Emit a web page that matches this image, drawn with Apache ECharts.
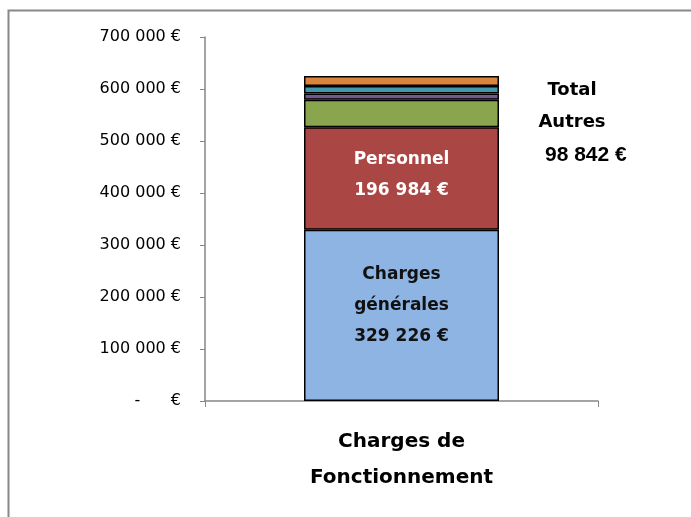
<!DOCTYPE html>
<html>
<head>
<meta charset="utf-8">
<script src="https://cdn.jsdelivr.net/npm/echarts@6/dist/echarts.min.js"></script>
<style>
html,body{margin:0;padding:0;background:#fff;}
#main{width:691px;height:517px;}
</style>
</head>
<body>
<div id="main"></div>
<script>
// données
var categories = ['Charges de\nFonctionnement'];
var segNames = ['Charges générales', 'Personnel', 'Autre 1', 'Autre 2', 'Autre 3', 'Autre 4'];
var segValues = [329226, 196984, 53300, 11800, 14400, 19342];
var segColors = ['#8EB4E3', '#AA4643', '#89A54E', '#71588F', '#4198AF', '#DB843D'];
var totalAutres = 98842;
var yTicks = [0, 100000, 200000, 300000, 400000, 500000, 600000, 700000];

function fmt(v){
    return String(v).replace(/\B(?=(\d{3})+(?!\d))/g, ' ');
}

var series = [];
for (var i = 0; i < segValues.length; i++) {
    var s = {
        name: segNames[i],
        type: 'bar',
        stack: 'tot',
        barWidth: 195,
        data: [segValues[i]],
        itemStyle: { color: segColors[i], borderColor: '#000', borderWidth: 1.5 },
        label: { show: false }
    };
    if (i == 0) {
        s.label = {
            show: true, position: 'inside', offset: [0, -10],
            formatter: 'Charges\ngénérales\n' + fmt(segValues[0]) + ' €',
            color: '#111', fontFamily: 'DejaVu Sans', fontWeight: 'bold',
            fontSize: 17, lineHeight: 31
        };
    }
    if (i == 1) {
        s.label = {
            show: true, position: 'inside', offset: [0, -4],
            formatter: 'Personnel\n' + fmt(segValues[1]) + ' €',
            color: '#fff', fontFamily: 'DejaVu Sans', fontWeight: 'bold',
            fontSize: 17, lineHeight: 31
        };
    }
    series.push(s);
}

var option = {
    animation: false,
    backgroundColor: '#fff',
    grid: { left: 205, right: 93, top: 37, bottom: 116, containLabel: false },
    xAxis: {
        type: 'category',
        data: categories,
        axisLine: { lineStyle: { color: '#868686', width: 1.5 } },
        axisTick: { show: true, length: 6, lineStyle: { color: '#868686' } },
        axisLabel: {
            margin: 23, color: '#000', fontFamily: 'DejaVu Sans', fontWeight: 'bold',
            fontSize: 20, lineHeight: 36
        }
    },
    yAxis: {
        type: 'value',
        min: 0, max: 700000, interval: 100000,
        splitLine: { show: false },
        axisLine: { show: true, lineStyle: { color: '#868686', width: 1.5 } },
        axisTick: { show: true, length: 5, lineStyle: { color: '#868686' } },
        axisLabel: {
            margin: 24, color: '#000', fontFamily: 'DejaVu Sans', fontSize: 16,
            formatter: function(v){ return v == 0 ? '-      €' : fmt(v) + ' €'; }
        }
    },
    graphic: [
        { type: 'rect', left: 6, top: 8, shape: { width: 700, height: 530 },
          style: { fill: 'none', stroke: '#888', lineWidth: 2 }, silent: true },
        { type: 'text', x: 572, y: 74,
          style: { text: 'Total\nAutres', fill: '#000', font: 'bold 18px "DejaVu Sans"', lineHeight: 32, textAlign: 'center' } },
        { type: 'text', x: 545, y: 145,
          style: { text: fmt(totalAutres) + ' €', fill: '#000', font: 'bold 21px "Liberation Sans"' } }
    ],
    series: series
};

var myChart = echarts.init(document.getElementById('main'));
myChart.setOption(option);
</script>
</body>
</html>
